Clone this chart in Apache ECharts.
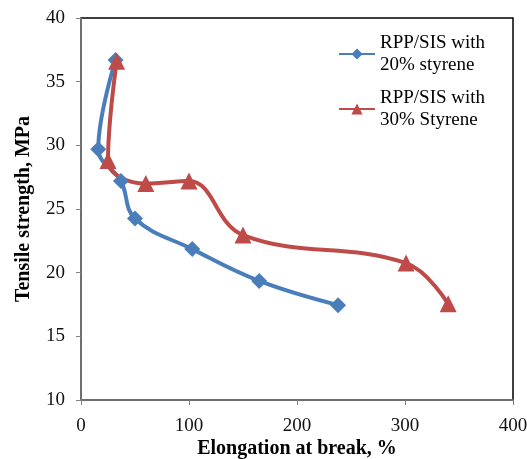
<!DOCTYPE html>
<html><head><meta charset="utf-8">
<script src="https://cdn.jsdelivr.net/npm/echarts@6/dist/echarts.min.js"></script>
<style>html,body{margin:0;padding:0;background:#fff}#c{width:527px;height:459px}</style>
</head><body><div id="c"></div>
<script>
const seriesNames = ["RPP/SIS with\n20% styrene", "RPP/SIS with\n30% Styrene"];
const elong20 = [32, 16, 37, 50, 103, 165, 238];
const tensile20 = [36.7, 29.7, 27.2, 24.25, 21.85, 19.35, 17.45];
const elong30 = [33, 25, 60, 100, 150, 301, 340];
const tensile30 = [36.6, 28.8, 27.0, 27.2, 22.95, 20.75, 17.55];
const xTicks = [0, 100, 200, 300, 400];
const yTicks = [10, 15, 20, 25, 30, 35, 40];

const pair = (xs, ys) => xs.map((x, i) => [x, ys[i]]);
const serif = '"Liberation Serif","DejaVu Serif",serif';
const chart = echarts.init(document.getElementById('c'), null, {renderer: 'canvas'});
chart.setOption({
  animation: false,
  backgroundColor: '#fff',
  grid: {left: 81, right: 14, top: 18, bottom: 59, containLabel: false, outerBoundsMode: 'none',
         show: true, borderColor: '#000', borderWidth: 1.5, backgroundColor: 'transparent'},
  legend: {
    orient: 'vertical', left: 333, top: 16, itemWidth: 36, itemHeight: 14, itemGap: -11,
    data: seriesNames,
    textStyle: {fontFamily: serif, fontSize: 19, color: '#000', lineHeight: 22, padding: [22, 0, 0, 0]}
  },
  xAxis: {
    type: 'value', min: xTicks[0], max: xTicks[xTicks.length - 1], interval: 100,
    name: 'Elongation at break, %', nameLocation: 'middle', nameGap: 39, nameMoveOverlap: false,
    nameTextStyle: {fontFamily: serif, fontSize: 20, fontWeight: 'bold', color: '#000'},
    axisLine: {lineStyle: {color: '#808080', width: 1.5}},
    axisTick: {show: true, length: 5, lineStyle: {color: '#808080'}},
    axisLabel: {fontFamily: serif, fontSize: 19, color: '#111', margin: 17},
    splitLine: {show: false}
  },
  yAxis: {
    type: 'value', min: yTicks[0], max: yTicks[yTicks.length - 1], interval: 5,
    name: 'Tensile strength, MPa', nameLocation: 'middle', nameGap: 47, nameMoveOverlap: false,
    nameTextStyle: {fontFamily: serif, fontSize: 20, fontWeight: 'bold', color: '#000'},
    axisLine: {show: true, lineStyle: {color: '#808080', width: 1.5}},
    axisTick: {show: true, length: 5, lineStyle: {color: '#808080'}},
    axisLabel: {fontFamily: serif, fontSize: 19, color: '#111', margin: 16},
    splitLine: {show: false}
  },
  series: [
    {name: seriesNames[0], type: 'line', smooth: 0.4, data: pair(elong20, tensile20),
     symbol: 'diamond', symbolSize: 16, lineStyle: {width: 4, color: '#4A7EBB'}, itemStyle: {color: '#4A7EBB'}},
    {name: seriesNames[1], type: 'line', smooth: 0.4, data: pair(elong30, tensile30),
     symbol: 'triangle', symbolSize: 17, lineStyle: {width: 4, color: '#BE4B48'}, itemStyle: {color: '#BE4B48'}}
  ]
});
</script></body></html>
